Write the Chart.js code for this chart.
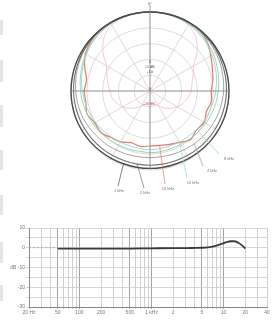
<!DOCTYPE html>
<html>
<head>
<meta charset="utf-8">
<script src="https://cdn.jsdelivr.net/npm/chart.js@4.4.1/dist/chart.umd.min.js"></script>
<style>
  html, body { margin: 0; padding: 0; background: #fff; }
  body { width: 275px; height: 320px; position: relative; overflow: hidden; }
  .box { position: absolute; left: 0; width: 275px; }
  #polarBox { top: 0; height: 200px; }
  #respBox { top: 215px; height: 105px; }
  .edge { position: absolute; left: 0; width: 3px; background: #e4e4e4; }
</style>
</head>
<body>
<div class="edge" style="top:20px;height:15px"></div>
<div class="edge" style="top:60px;height:22px"></div>
<div class="edge" style="top:105px;height:22px"></div>
<div class="edge" style="top:150px;height:20px"></div>
<div class="edge" style="top:195px;height:20px"></div>
<div class="edge" style="top:242px;height:21px"></div>
<div class="edge" style="top:285px;height:16px"></div>
<div class="box" id="polarBox"><canvas id="polar"></canvas></div>
<div class="box" id="respBox"><canvas id="resp"></canvas></div>
<script>
// polar pattern: angle in degrees, clockwise from the front (top)
const angles = [0, 10, 20, 30, 40, 50, 60, 70, 80, 90, 100, 110, 120, 130, 140, 150, 160, 170,
                180, 190, 200, 210, 220, 230, 240, 250, 260, 270, 280, 290, 300, 310, 320, 330, 340, 350];

// level in dB relative to 0 dB on-axis
const pol1k  = [0, 0, 0, 0, 0, 0, 0, 0, 0, 0, 0, 0, -0.1, -0.2, -0.3, -0.4, -0.5, -0.5,
                -0.5, -0.5, -0.5, -0.4, -0.3, -0.2, -0.1, 0, 0, 0, 0, 0, 0, 0, 0, 0, 0, 0];
const pol2k  = [0, 0, 0, -0.1, -0.2, -0.3, -0.4, -0.6, -0.7, -0.8, -0.9, -1.0, -1.1, -1.2, -1.3, -1.4, -1.5, -1.5,
                -1.5, -1.5, -1.5, -1.4, -1.3, -1.2, -1.1, -1.0, -0.9, -0.8, -0.7, -0.6, -0.4, -0.3, -0.2, -0.1, 0, 0];
const pol4k  = [0, 0, -0.1, -0.2, -0.4, -0.6, -0.9, -1.2, -1.5, -1.7, -2.0, -2.3, -2.6, -2.9, -3.2, -3.5, -3.7, -3.9,
                -3.9, -3.9, -3.7, -3.5, -3.2, -2.9, -2.5, -2.1, -1.8, -1.5, -1.2, -0.9, -0.6, -0.4, -0.2, -0.1, 0, 0];
const pol8k  = [0, 0, -0.2, -0.4, -0.8, -1.3, -1.8, -2.4, -2.9, -3.4, -3.8, -4.2, -4.6, -5.0, -5.3, -5.5, -5.6, -5.5,
                -5.5, -5.6, -5.4, -5.2, -4.9, -4.6, -4.2, -3.8, -3.4, -3.0, -2.6, -2.1, -1.6, -1.1, -0.7, -0.4, -0.2, 0];
const pol10k = [0, 0, -0.3, -0.6, -1.1, -1.7, -2.4, -3.0, -3.6, -4.2, -4.7, -5.1, -5.5, -5.9, -6.2, -6.4, -6.5, -6.5,
                -6.4, -6.5, -6.5, -6.3, -6.0, -5.6, -5.1, -4.6, -4.1, -3.6, -3.0, -2.4, -1.8, -1.2, -0.7, -0.3, -0.1, 0];
const pol16k = [0, 0, 0, -0.2, -0.2, -1.2, -2.8, -4.0, -4.8, -5.6, -5.3, -6.0, -5.2, -5.8, -5.0, -6.2, -7.0, -7.5,
                -7.6, -7.2, -7.6, -6.4, -5.8, -4.6, -4.8, -3.8, -4.4, -4.2, -4.6, -3.0, -1.4, -0.6, -0.2, 0, 0, 0];
const polNarrow = [0, -0.1, -0.3, -0.8, -2.5, -5.5, -9.0, -10.5, -11.5, -12.0, -12.8, -13.8, -15.0, -16.5, -18.0, -19.5, -20.5, -21.0,
                -21.2, -21.0, -20.5, -19.5, -18.0, -16.5, -15.0, -13.8, -12.8, -12.3, -11.5, -10.5, -9.0, -5.5, -2.5, -0.8, -0.3, -0.1];

// leader-line labels: text, which curve (dataset index), which angle index it points at
const curveLabels = ['1 kHz', '2 kHz', '16 kHz', '10 kHz', '4 kHz', '8 kHz'];
const labelCurve  = [0, 1, 5, 4, 2, 3];
const labelAngle  = [20, 19, 17, 15, 14, 13];

// frequency response
const respFreq = [50, 100, 200, 500, 1000, 2000, 3000, 4000, 5000, 6000, 7000, 8000, 9000, 10000,
                  11000, 12500, 14000, 16000, 18000, 20000];
const respDb   = [-0.4, -0.4, -0.4, -0.4, -0.3, -0.2, -0.2, -0.1, 0, 0.2, 0.6, 1.1, 1.7, 2.3,
                  2.8, 3.3, 3.3, 2.5, 1.2, -0.4];
const leadFreq = [20, 50];
const leadDb   = [0, 0];

const freqGrid = [20, 30, 40, 50, 60, 70, 80, 90, 100, 200, 300, 400, 500, 600, 700, 800, 900,
                  1000, 2000, 3000, 4000, 5000, 6000, 7000, 8000, 9000, 10000, 20000, 30000, 40000];
const freqTickLabels = {20: '20 Hz', 50: '50', 100: '100', 200: '200', 500: '500', 1000: '1 kHz',
                        2000: '2', 5000: '5', 10000: '10', 20000: '20', 40000: '40'};
const dbGrid = [-30, -25, -20, -15, -10, -5, 0, 5, 10];
const dbTickLabels = {10: '10', 0: '0', '-10': 'dB -10', '-20': '-20', '-30': '-30'};

Chart.defaults.font.family = '"Liberation Sans", Arial, sans-serif';
Chart.defaults.color = '#777';

// label placement around the polar plot (text centre and end of leader line)
const labelPos = [
  {x: 119, y: 191, lx: 118, ly: 186},
  {x: 145, y: 193, lx: 144, ly: 188},
  {x: 168, y: 189, lx: 165, ly: 184},
  {x: 193, y: 183, lx: 187, ly: 178},
  {x: 212, y: 171, lx: 203, ly: 166},
  {x: 229, y: 159, lx: 219, ly: 154}
];

const polarDecor = {
  id: 'polarDecor',
  afterDatasetsDraw(chart) {
    const ctx = chart.ctx;
    const r = chart.scales.r;
    const cx = r.xCenter, cy = r.yCenter, R = r.drawingArea;
    ctx.save();
    ctx.strokeStyle = '#8a8a8a';
    ctx.lineWidth = 0.8;
    ctx.beginPath();
    ctx.moveTo(cx, cy - R - 7); ctx.lineTo(cx, cy + R);
    ctx.moveTo(cx - R, cy); ctx.lineTo(cx + R, cy);
    ctx.stroke();

    ctx.textAlign = 'center';
    ctx.textBaseline = 'middle';
    ctx.font = '4px "Liberation Sans", Arial, sans-serif';
    ctx.fillStyle = '#555';
    ctx.fillText('0°', cx, cy - R - 8);
    ctx.fillText('0', cx, cy - 29);
    ctx.fillText('-5 dB', cx, cy - 24);
    ctx.fillText('-10', cx, cy - 19);
    ctx.fillText('0', cx, cy - 2);
    ctx.fillStyle = '#c0508a';
    ctx.fillText('-20 dB', cx - 1, cy + 13);

    ctx.lineWidth = 0.7;
    curveLabels.forEach((txt, i) => {
      const pt = chart.getDatasetMeta(labelCurve[i]).data[labelAngle[i]];
      const L = labelPos[i];
      ctx.strokeStyle = chart.data.datasets[labelCurve[i]].borderColor;
      ctx.beginPath();
      ctx.moveTo(pt.x, pt.y);
      ctx.lineTo(L.lx, L.ly);
      ctx.stroke();
      ctx.fillStyle = '#777';
      ctx.fillText(txt, L.x, L.y);
    });
    ctx.restore();
  }
};

function polarSet(data, color, width) {
  return {data: data, borderColor: color, borderWidth: width, fill: false,
          pointRadius: 0, tension: 0.3};
}

new Chart(document.getElementById('polar'), {
  type: 'radar',
  data: {
    labels: angles.map(a => a + '°'),
    datasets: [
      polarSet(pol1k, '#4a4a4a', 1.4),
      polarSet(pol2k, '#707070', 1.1),
      polarSet(pol4k, '#9a9a9a', 0.9),
      polarSet(pol8k, '#8fd2a4', 0.9),
      polarSet(pol10k, '#98d3e4', 0.9),
      polarSet(pol16k, '#e27a66', 1.2),
      polarSet(polNarrow, '#efc3da', 0.9)
    ]
  },
  options: {
    responsive: true,
    maintainAspectRatio: false,
    animation: false,
    layout: {padding: {left: 71, right: 46, top: 12, bottom: 30}},
    plugins: {legend: {display: false}, tooltip: {enabled: false}},
    scales: {
      r: {
        min: -25,
        max: 0,
        ticks: {display: false, stepSize: 5},
        pointLabels: {display: false},
        grid: {circular: true, color: '#d8cfd1', lineWidth: 0.8},
        angleLines: {
          color: (c) => c.index % 3 === 0 ? '#d8cfd1' : 'rgba(0,0,0,0)',
          lineWidth: 0.8
        }
      }
    }
  },
  plugins: [polarDecor]
});

new Chart(document.getElementById('resp'), {
  type: 'line',
  data: {
    datasets: [
      {
        data: respFreq.map((f, i) => ({x: f, y: respDb[i]})),
        borderColor: '#3a3a3a', borderWidth: 1.8, pointRadius: 0,
        cubicInterpolationMode: 'monotone'
      },
      {
        data: leadFreq.map((f, i) => ({x: f, y: leadDb[i]})),
        borderColor: '#aaa', borderWidth: 0.8, borderDash: [2, 2], pointRadius: 0
      }
    ]
  },
  options: {
    responsive: true,
    maintainAspectRatio: false,
    animation: false,
    layout: {padding: {left: 0, right: 8, top: 13, bottom: 0}},
    plugins: {legend: {display: false}, tooltip: {enabled: false}},
    scales: {
      x: {
        type: 'logarithmic',
        min: 20,
        max: 40000,
        afterBuildTicks: (s) => { s.ticks = freqGrid.map(v => ({value: v})); },
        afterFit: (s) => { s.height = 13; },
        ticks: {
          autoSkip: false, maxRotation: 0, padding: 1,
          font: {size: 5},
          callback: (v) => freqTickLabels[v] || ''
        },
        grid: {
          color: (c) => [50, 100, 500, 1000, 5000, 10000].includes(c.tick && c.tick.value) ? '#8c8c8c' : '#c4c4c4',
          lineWidth: 0.8,
          tickLength: 2
        },
        border: {color: '#888'}
      },
      y: {
        min: -30,
        max: 10,
        afterBuildTicks: (s) => { s.ticks = dbGrid.map(v => ({value: v})); },
        afterFit: (s) => { s.width = 29; },
        ticks: {
          padding: 1,
          font: {size: 5},
          callback: (v) => dbTickLabels[v] || ''
        },
        grid: {color: '#cbcbcb', lineWidth: 0.8, tickLength: 3},
        border: {color: '#888'}
      }
    }
  }
});
</script>
</body>
</html>
